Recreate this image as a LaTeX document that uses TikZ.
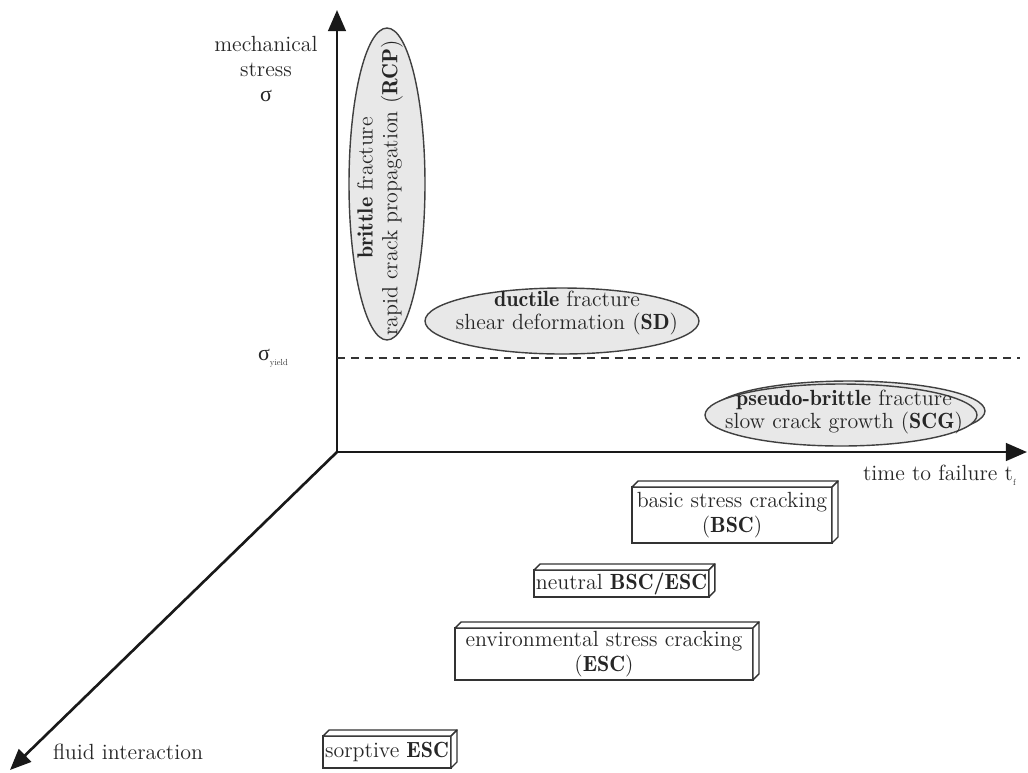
\documentclass[tikz,border=0pt]{standalone}
\usepackage{fontspec}
\setmainfont{lmroman12-regular.otf}[BoldFont=lmromandemi10-regular.otf]
\newfontfamily\grk{Liberation Serif}
\usetikzlibrary{arrows.meta,shapes.geometric}
\newcommand\mkslab[1]{%
  \filldraw[boxline] (#1.north west) -- ++(6,-6) -- ([shift={(6,-6)}]#1.north east) -- (#1.north east) -- cycle;
  \filldraw[boxline] (#1.north east) -- ++(6,-6) -- ([shift={(6,-6)}]#1.south east) -- (#1.south east) -- cycle;}
\begin{document}
\begin{tikzpicture}[x=0.02cm,y=-0.02cm,
  every node/.style={font=\fontsize{12.5}{14}\selectfont, text=black!85},
  axis/.style={line width=1.5pt, draw=black!90, -{Triangle[length=12pt,width=10pt]}},
  blob/.style={ellipse, draw=black!75, fill=black!9, line width=0.8pt, inner sep=0pt, outer sep=0pt},
  slabbox/.style={draw=black!80, fill=white, line width=0.8pt, rectangle, align=center, inner sep=1pt, outer sep=0pt},
  boxline/.style={draw=black!80, fill=white, line width=0.8pt, line join=round},
  lbl/.style={align=center, inner sep=0pt},
  yieldline/.style={dashed, dash pattern=on 4.5pt off 3.4pt, line width=0.6pt, draw=black!80}]
\useasboundingbox (0,0) rectangle (1028,772);

% axes
\coordinate (O) at (337,452);
\coordinate (ytip) at (337,10);
\coordinate (xtip) at (1027,452);
\coordinate (ztip) at (10,770);
\draw[axis] (O) -- (ytip);
\draw[axis] (O) -- (xtip);
\draw[axis] (O) -- (ztip);

% yield line
\coordinate (yl0) at (337,358);
\coordinate (yl1) at (1020,358);
\draw[yieldline] (yl0) -- (yl1);

% axis labels
\node[lbl] (lsig) at (266,69) {mechanical\\stress\\{\grk σ}};
\node[lbl] (lyield) at (273,358) {{\grk σ}\raisebox{-0.5ex}{\fontsize{5}{6}\selectfont yield}};
\node[lbl, anchor=east] (ltime) at (1016,475) {time to failure t\raisebox{-0.5ex}{\fontsize{5}{6}\selectfont f}};
\node[lbl] (lfluid) at (128,752) {fluid interaction};

% ellipses
\node[blob, minimum width=6.24cm, minimum height=1.52cm, rotate=90] (brittle) at (387,184) {};
\node[lbl, rotate=90] (tbrittle) at (380,188) {\textbf{brittle} fracture\\rapid crack propagation (\textbf{RCP})};

\node[blob, minimum width=5.48cm, minimum height=1.32cm] (ductile) at (562,321) {};
\node[lbl, font=\fontsize{12.5}{13}\selectfont] (tductile) at (567,313) {\textbf{ductile} fracture\\shear deformation (\textbf{SD})};

\node[blob, minimum width=5.44cm, minimum height=1.2cm] (pseudoback) at (849,411) {};
\node[blob, minimum width=5.44cm, minimum height=1.24cm] (pseudo) at (841,415) {};
\node[lbl, font=\fontsize{12.5}{13.5}\selectfont] (tpseudo) at (844,412) {\textbf{pseudo-brittle} fracture\\slow crack growth (\textbf{SCG})};

% boxes
\node[slabbox, minimum width=4.0cm, minimum height=1.12cm] (bsc) at (732,515) {basic stress cracking\\(\textbf{BSC})};
\mkslab{bsc}
\node[slabbox, minimum width=3.38cm, minimum height=0.54cm] (neutral) at (621.5,583.5) {neutral \textbf{BSC/ESC}};
\mkslab{neutral}
\node[slabbox, minimum width=5.96cm, minimum height=1.04cm] (esc) at (604,654) {environmental stress cracking\\(\textbf{ESC})};
\mkslab{esc}
\node[slabbox, minimum width=2.56cm, minimum height=0.64cm] (sorp) at (387,752) {sorptive \textbf{ESC}};
\mkslab{sorp}
\end{tikzpicture}
\end{document}
